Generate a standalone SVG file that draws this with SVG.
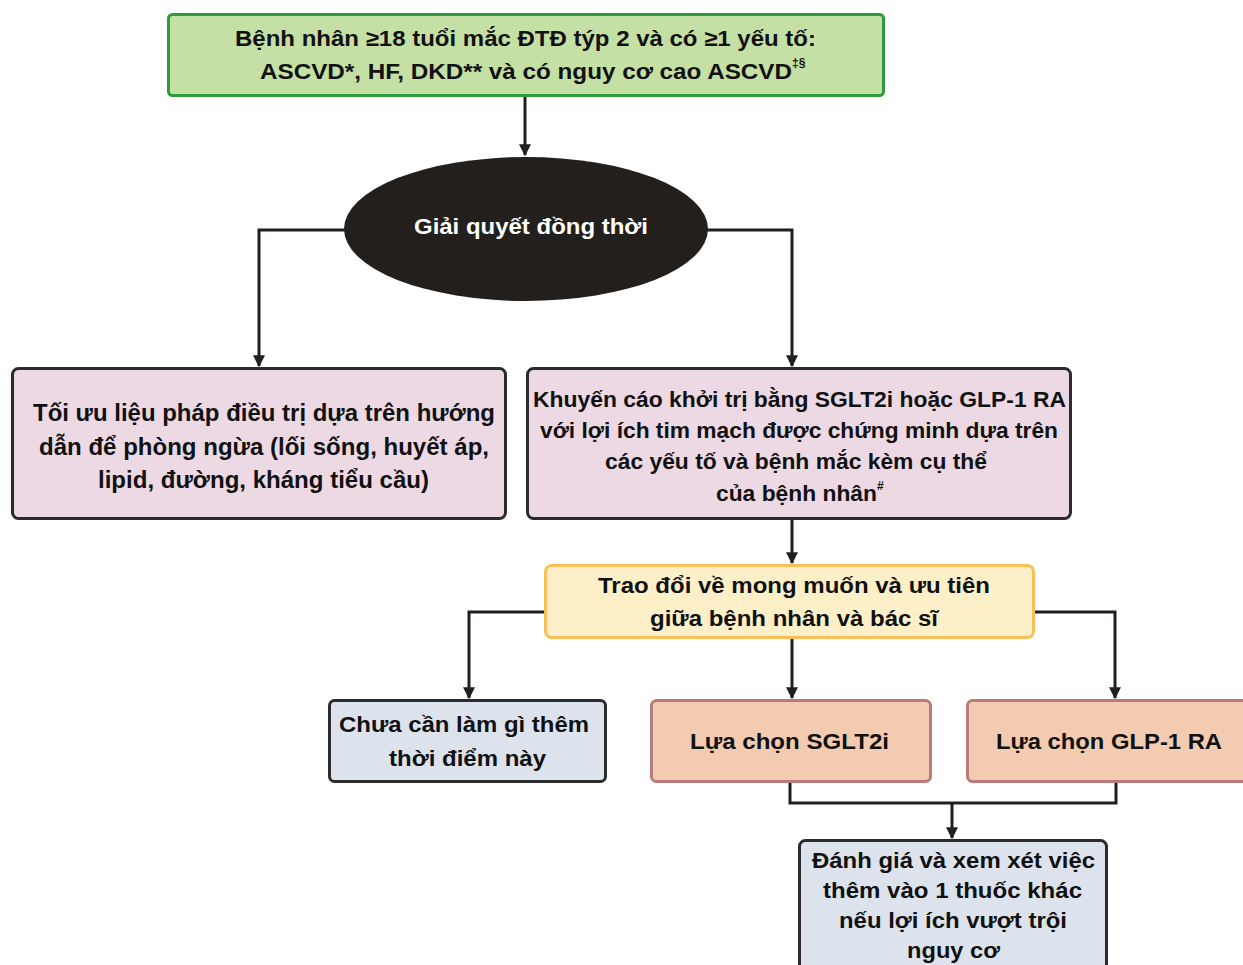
<svg xmlns="http://www.w3.org/2000/svg" width="1243" height="965" viewBox="0 0 1243 965">
  <defs>
    <marker id="arrow" viewBox="0 0 10 10" refX="9" refY="5" markerWidth="4" markerHeight="4" orient="auto" markerUnits="strokeWidth">
      <path d="M0,0 L10,5 L0,10 Z" fill="#231f20"/>
    </marker>
    <style>
      .t { font-family: "Liberation Sans", Arial, sans-serif; font-weight: bold; font-size: 22px; fill: #111; text-anchor: middle; }
      .n { font-size: 23px; }
      .w { fill: #ffffff; }
      .sup { font-family: "Liberation Sans", Arial, sans-serif; font-weight: bold; font-size: 12px; fill: #111; }
      .conn { fill: none; stroke: #231f20; stroke-width: 3; }
      .dark { stroke: #2b2b2b; stroke-width: 3; }
    </style>
  </defs>

  <rect width="1243" height="965" fill="#ffffff"/>

  <!-- connectors -->
  <g id="connectors">
    <path class="conn" d="M525,96 V155" marker-end="url(#arrow)"/>
    <path class="conn" d="M345,230 H259 V366" marker-end="url(#arrow)"/>
    <path class="conn" d="M707,230 H792 V366" marker-end="url(#arrow)"/>
    <path class="conn" d="M792,519 V563" marker-end="url(#arrow)"/>
    <path class="conn" d="M545,612 H469 V698" marker-end="url(#arrow)"/>
    <path class="conn" d="M792,638 V698" marker-end="url(#arrow)"/>
    <path class="conn" d="M1034,612 H1115 V698" marker-end="url(#arrow)"/>
    <path class="conn" d="M790,782 V803 H1116 V782"/>
    <path class="conn" d="M952,803 V838" marker-end="url(#arrow)"/>
  </g>

  <!-- entry criteria -->
  <g id="node-entry">
    <rect x="168.5" y="14.5" width="715" height="81" rx="4" fill="#c5e0a5" stroke="#2e9a3e" stroke-width="3"/>
    <text class="t" x="525.5" y="46" textLength="581" lengthAdjust="spacingAndGlyphs">Bệnh nhân ≥18 tuổi mắc ĐTĐ týp 2 và có ≥1 yếu tố:</text>
    <text class="t" x="526" y="79" textLength="532" lengthAdjust="spacingAndGlyphs">ASCVD*, HF, DKD** và có nguy cơ cao ASCVD</text>
    <text class="sup" x="792" y="67">‡§</text>
  </g>

  <!-- simultaneous management -->
  <g id="node-simultaneous">
    <ellipse cx="526" cy="229" rx="182" ry="72" fill="#231f1c"/>
    <text class="t w" x="531" y="234" textLength="234" lengthAdjust="spacingAndGlyphs">Giải quyết đồng thời</text>
  </g>

  <!-- guideline therapy -->
  <g id="node-guideline">
    <rect x="12.5" y="368.5" width="493" height="150" rx="6" fill="#ecd9e4" class="dark"/>
    <text class="t n" x="264" y="421" textLength="462" lengthAdjust="spacingAndGlyphs">Tối ưu liệu pháp điều trị dựa trên hướng</text>
    <text class="t n" x="264" y="455" textLength="450" lengthAdjust="spacingAndGlyphs">dẫn để phòng ngừa (lối sống, huyết áp,</text>
    <text class="t n" x="263.5" y="488" textLength="331" lengthAdjust="spacingAndGlyphs">lipid, đường, kháng tiểu cầu)</text>
  </g>

  <!-- recommendation -->
  <g id="node-recommend">
    <rect x="527.5" y="368.5" width="543" height="150" rx="6" fill="#ecd9e4" class="dark"/>
    <text class="t" x="799.5" y="407" textLength="533" lengthAdjust="spacingAndGlyphs">Khuyến cáo khởi trị bằng SGLT2i hoặc GLP-1 RA</text>
    <text class="t" x="799" y="438" textLength="518" lengthAdjust="spacingAndGlyphs">với lợi ích tim mạch được chứng minh dựa trên</text>
    <text class="t" x="796" y="469" textLength="382" lengthAdjust="spacingAndGlyphs">các yếu tố và bệnh mắc kèm cụ thể</text>
    <text class="t" x="796.5" y="501" textLength="161" lengthAdjust="spacingAndGlyphs">của bệnh nhân</text>
    <text class="sup" x="877" y="490">#</text>
  </g>

  <!-- shared decision -->
  <g id="node-discuss">
    <rect x="545.5" y="565.5" width="488" height="72" rx="6" fill="#fdf0c9" stroke="#fbbf5a" stroke-width="3"/>
    <text class="t" x="794" y="593" textLength="392" lengthAdjust="spacingAndGlyphs">Trao đổi về mong muốn và ưu tiên</text>
    <text class="t" x="794" y="626" textLength="288" lengthAdjust="spacingAndGlyphs">giữa bệnh nhân và bác sĩ</text>
  </g>

  <!-- no action now -->
  <g id="node-none">
    <rect x="329.5" y="700.5" width="276" height="81" rx="5" fill="#dde3ec" class="dark"/>
    <text class="t" x="464" y="732" textLength="250" lengthAdjust="spacingAndGlyphs">Chưa cần làm gì thêm</text>
    <text class="t" x="467.5" y="766" textLength="157" lengthAdjust="spacingAndGlyphs">thời điểm này</text>
  </g>

  <!-- SGLT2i -->
  <g id="node-sglt2i">
    <rect x="651.5" y="700.5" width="279" height="81" rx="5" fill="#f2cbb0" stroke="#b97b7b" stroke-width="3"/>
    <text class="t" x="789.5" y="749" textLength="199" lengthAdjust="spacingAndGlyphs">Lựa chọn SGLT2i</text>
  </g>

  <!-- GLP-1 RA -->
  <g id="node-glp1">
    <rect x="967.5" y="700.5" width="290" height="81" rx="5" fill="#f2cbb0" stroke="#b97b7b" stroke-width="3"/>
    <text class="t" x="1109" y="749" textLength="226" lengthAdjust="spacingAndGlyphs">Lựa chọn GLP-1 RA</text>
  </g>

  <!-- reassess -->
  <g id="node-reassess">
    <rect x="799.5" y="840.5" width="307" height="140" rx="6" fill="#dde3ec" class="dark"/>
    <text class="t" x="953.5" y="868" textLength="283" lengthAdjust="spacingAndGlyphs">Đánh giá và xem xét việc</text>
    <text class="t" x="952.5" y="898" textLength="259" lengthAdjust="spacingAndGlyphs">thêm vào 1 thuốc khác</text>
    <text class="t" x="953" y="928" textLength="228" lengthAdjust="spacingAndGlyphs">nếu lợi ích vượt trội</text>
    <text class="t" x="953.5" y="958" textLength="93" lengthAdjust="spacingAndGlyphs">nguy cơ</text>
  </g>
</svg>
